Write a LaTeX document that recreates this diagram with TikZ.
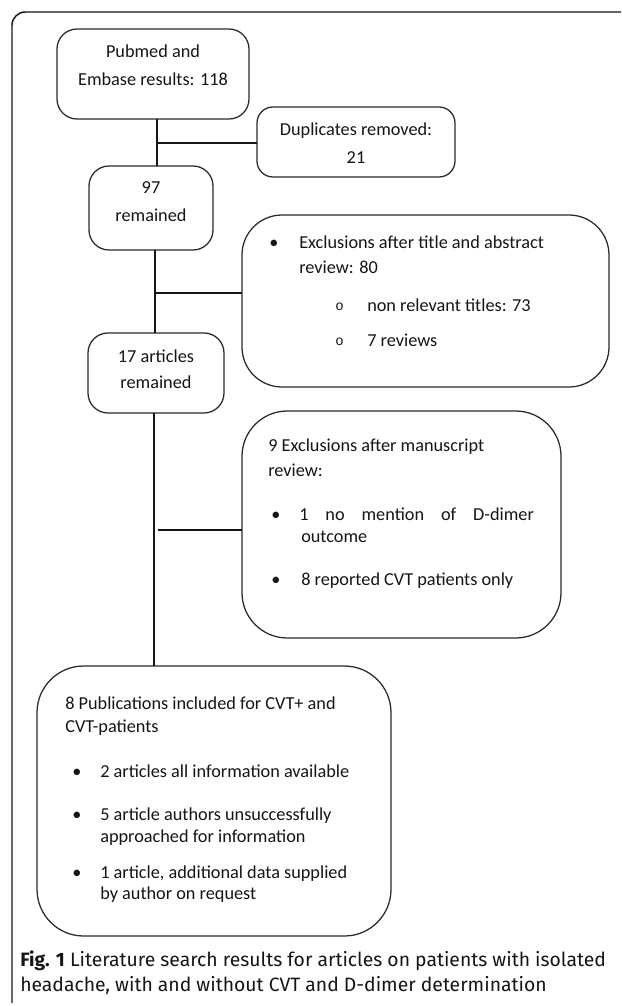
\documentclass[tikz,border=0pt]{standalone}
\usepackage{fontspec}
\setmainfont{Carlito}
\newfontfamily\capfont{Fira Sans}
\newfontfamily\monof{Liberation Mono}
\definecolor{ink}{HTML}{151515}
\definecolor{edge}{HTML}{2A2A2A}
\begin{document}
\begin{tikzpicture}[x=0.75pt,y=-0.75pt,
  box/.style={draw=edge,line width=0.95pt,rounded corners=#1},
  txt/.style={inner sep=0pt,anchor=base,text=ink,font=\fontsize{13.7pt}{16pt}\selectfont},
  ltxt/.style={inner sep=0pt,anchor=base west,text=ink,font=\fontsize{13.7pt}{16pt}\selectfont},
  circ/.style={inner sep=0pt,anchor=base west,text=ink,font=\monof\fontsize{10.5pt}{12pt}\selectfont},
  conn/.style={draw=ink,line width=#1},
  captext/.style={inner sep=0pt,anchor=base west,text=ink,font=\capfont\fontsize{14.5pt}{17pt}\selectfont}]
\useasboundingbox (0,0) rectangle (621,1006);
% outer frame
\draw[draw=ink,line width=1.1pt,rounded corners=10] (12,1003) -- (12,12) -- (621,12);

% boxes
\path[box=15] (57,29) rectangle (249,119);
\coordinate (b1s) at (157,119);
\path[box=12] (257,107) rectangle (455,177);
\coordinate (dupw) at (257,143);
\path[box=15] (89,166) rectangle (213,250);
\coordinate (b97n) at (157,166);
\coordinate (b97s) at (155,250);
\path[box=30] (242,215) rectangle (609,387);
\coordinate (ex1w) at (242,293);
\path[box=15] (88,333) rectangle (224,413);
\coordinate (b17n) at (155,333);
\coordinate (b17s) at (154,413);
\path[box=34] (242,411) rectangle (561,638);
\coordinate (ex2w) at (242,530);
\path[box=35] (37,666) rectangle (391,936);
\coordinate (pubn) at (154,666);

% connectors
\coordinate (j1) at (157,143);
\coordinate (j2) at (155,293);
\coordinate (j3) at (154,530);
\draw[conn=1.1pt] (b1s) -- (b97n);
\draw[conn=1.6pt] (j1) -- (dupw);
\draw[conn=1.1pt] (b97s) -- (b17n);
\draw[conn=1.0pt] (j2) -- (ex1w);
\draw[conn=1.5pt] (b17s) -- (pubn);
\draw[conn=1.0pt] ([xshift=3]j3) -- (ex2w);

% texts
\node[txt] (t1a) at (153,58) {Pubmed and};
\node[txt] (t1b) at (153,85) {Embase results: 118};
\node[txt] (t2a) at (356,135) {Duplicates removed:};
\node[txt] (t2b) at (356,163) {21};
\node[txt] (t3a) at (151,193) {97};
\node[txt] (t3b) at (151,221) {remained};
\node[txt] (t4a) at (156,362) {17 articles};
\node[txt] (t4b) at (156,388) {remained};

\node[ltxt] (e1b) at (269,248) {•};
\node[ltxt] (e1a) at (299,248) {Exclusions after title and abstract};
\node[ltxt] (e1c) at (299,273) {review: 80};
\node[circ] (e1d) at (335,310) {o};
\node[ltxt] (e1e) at (367,311) {non relevant titles: 73};
\node[circ] (e1f) at (335,345) {o};
\node[ltxt] (e1g) at (367,346) {7 reviews};

\node[ltxt] (e2a) at (268,451) {9 Exclusions after manuscript};
\node[ltxt] (e2b) at (268,476) {review:};
\node[ltxt] (e2c) at (271,520) {•};
\node[ltxt] (e2d) at (299,520) {\makebox[176pt][s]{1 no mention of D-dimer}};
\node[ltxt] (e2e) at (301,542) {outcome};
\node[ltxt] (e2f) at (271,585) {•};
\node[ltxt] (e2g) at (301,585) {8 reported CVT patients only};

\node[ltxt] (p1) at (65,709) {8 Publications included for CVT+ and};
\node[ltxt] (p2) at (65,732) {CVT-patients};
\node[ltxt] (p3) at (72,777) {•};
\node[ltxt] (p4) at (100,777) {2 articles all information available};
\node[ltxt] (p5) at (72,820) {•};
\node[ltxt] (p6) at (100,820) {5 article authors unsuccessfully};
\node[ltxt] (p7) at (100,842) {approached for information};
\node[ltxt] (p8) at (72,878) {•};
\node[ltxt] (p9) at (100,878) {1 article, additional data supplied};
\node[ltxt] (p10) at (100,899) {by author on request};

% caption
\node[captext] (c1) at (20,966) {\textbf{Fig. 1} Literature search results for articles on patients with isolated};
\node[captext] (c2) at (20,991) {headache, with and without CVT and D-dimer determination};
\end{tikzpicture}
\end{document}
